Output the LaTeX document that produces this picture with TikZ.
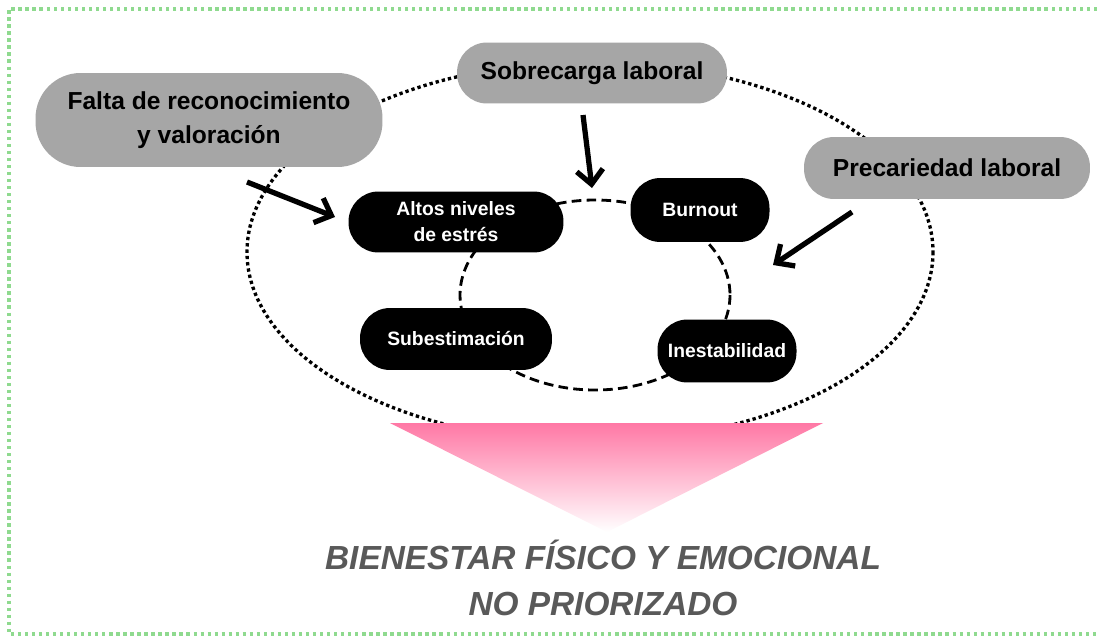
\documentclass[tikz,border=0pt]{standalone}
\usepackage{fontspec}
\setmainfont{Liberation Sans}
\usetikzlibrary{arrows.meta}
\definecolor{boxgray}{HTML}{A6A6A6}
\definecolor{framegreen}{HTML}{8FDA8F}
\definecolor{titlegray}{HTML}{595959}
\definecolor{pinktop}{HTML}{FF78A5}
\tikzset{
  cause/.style={fill=boxgray, rounded corners=0.6cm, inner sep=0pt, align=center,
    font=\bfseries\fontsize{14}{19}\selectfont},
  effect/.style={fill=black, text=white, rounded corners=0.6cm, inner sep=0pt, align=center,
    font=\bfseries\fontsize{11}{14.7}\selectfont},
  push/.style={line width=3pt, -{Straight Barb[length=8pt,width=15pt]}},
  ring/.style={line width=1.9pt, dash pattern=on 1.9pt off 1.7pt},
  cycle/.style={line width=1.6pt, dash pattern=on 5.5pt off 3pt}
}
\begin{document}
\begin{tikzpicture}[x=0.02cm, y=-0.02cm]
  \useasboundingbox (0,0) rectangle (1097,635);
  \fill[white] (0,0) rectangle (1097,635);
  \draw[framegreen, line width=1.9pt, dash pattern=on 1.9pt off 2.1pt] (1097,9) -- (9,9) -- (9,634) -- (1097,634);
  % outer ring and inner cycle
  \draw[ring] (590,252) ellipse [x radius=343, y radius=190];
  \draw[cycle] (595,295) ellipse [x radius=135, y radius=95];
  \shade[top color=pinktop, bottom color=white] (390,423) -- (823,423) -- (607,532) -- cycle;
  % causes
  \node[cause, rounded corners=0.9cm, minimum width=6.94cm, minimum height=1.88cm] (falta) at (209,120)
    {Falta de reconocimiento\\y valoración};
  \node[cause, minimum width=5.4cm, minimum height=1.22cm] (sobrecarga) at (592,73) {Sobrecarga laboral};
  \node[cause, minimum width=5.72cm, minimum height=1.24cm] (precariedad) at (947,168) {Precariedad laboral};
  % effects
  \node[effect, minimum width=4.3cm, minimum height=1.22cm] (estres) at (456,222) {Altos niveles\\de estrés};
  \node[effect, minimum width=2.78cm, minimum height=1.28cm] (burnout) at (700,210) {Burnout};
  \node[effect, minimum width=3.84cm, minimum height=1.24cm] (subestimacion) at (456,339) {Subestimación};
  \node[effect, minimum width=2.78cm, minimum height=1.26cm] (inestabilidad) at (727,351) {Inestabilidad};
  % result
  \node[text=titlegray, align=center, font=\bfseries\itshape\fontsize{19}{26}\selectfont] (bienestar) at (603,578)
    {BIENESTAR FÍSICO Y EMOCIONAL\\NO PRIORIZADO};
  \coordinate (fromFalta) at (247,182);
  \coordinate (toEstres) at (335,217);
  \coordinate (fromSobrecarga) at (583,115);
  \coordinate (toCycle) at (592,188);
  \coordinate (fromPrecariedad) at (852,212);
  \coordinate (toInestabilidad) at (773,265);
  \begin{scope}[push]
    \draw (fromFalta) -- (toEstres);
    \draw (fromSobrecarga) -- (toCycle);
    \draw (fromPrecariedad) -- (toInestabilidad);
  \end{scope}
\end{tikzpicture}
\end{document}
